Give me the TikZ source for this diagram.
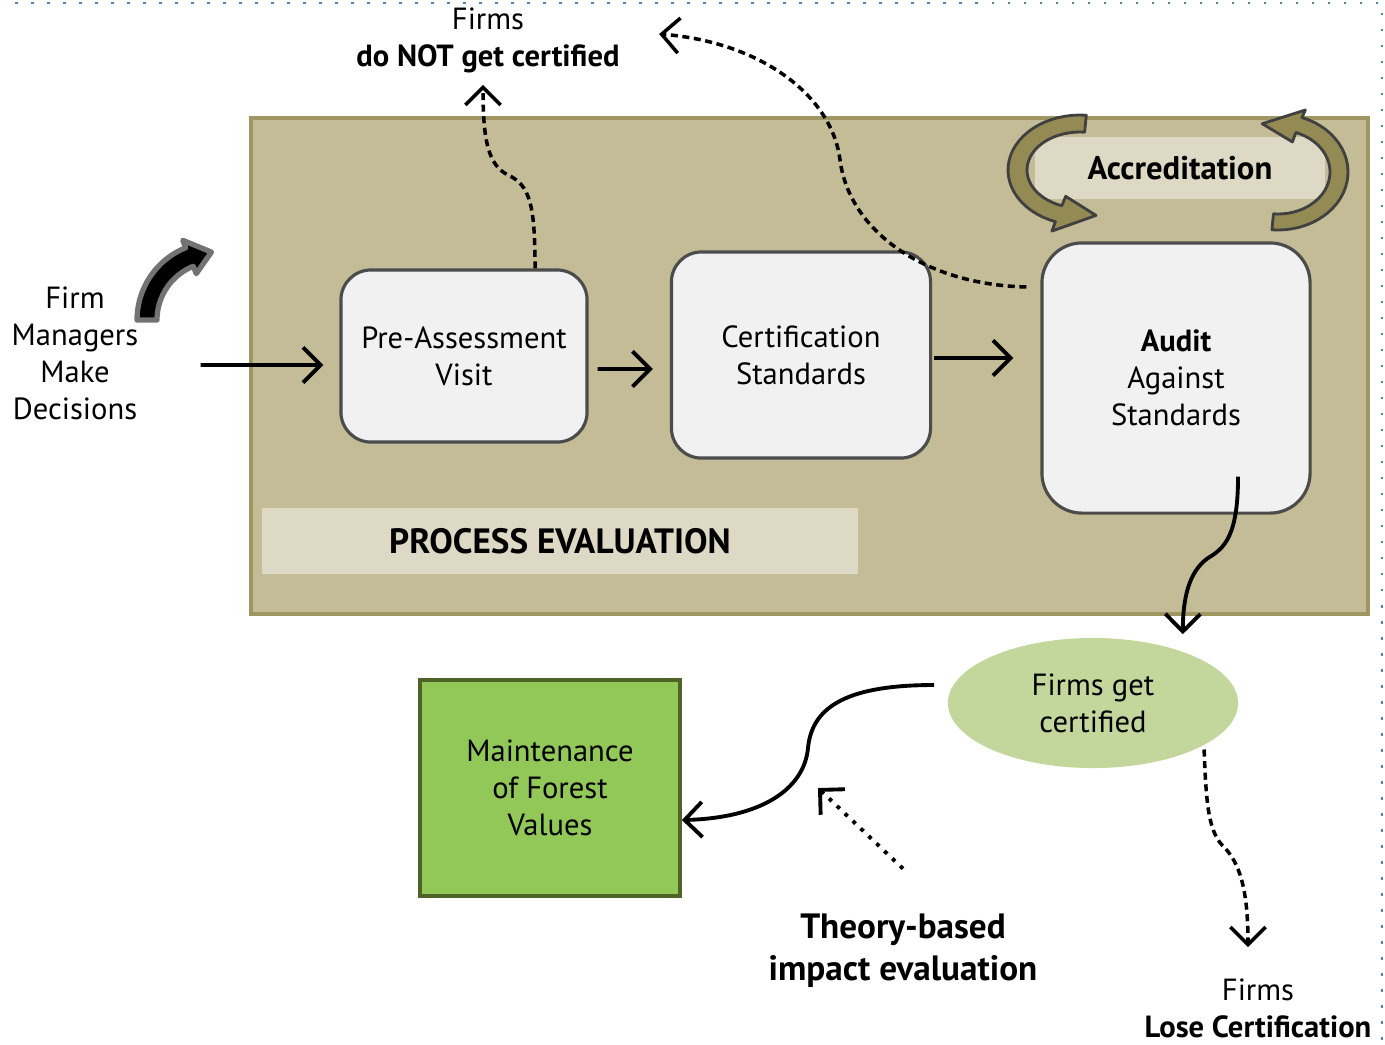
\documentclass[tikz,border=0pt]{standalone}
\usepackage{fontspec}
\setmainfont{PT Sans}
\usetikzlibrary{arrows.meta, shapes.geometric, positioning}

\definecolor{procfill}{RGB}{196,188,150}
\definecolor{procline}{RGB}{160,150,98}
\definecolor{bandfill}{RGB}{222,217,196}
\definecolor{boxfill}{RGB}{240,241,240}
\definecolor{olivearrow}{RGB}{148,138,84}
\definecolor{certgreen}{RGB}{195,214,155}
\definecolor{forestgreen}{RGB}{146,200,88}
\definecolor{forestline}{RGB}{79,98,40}
\definecolor{selblue}{RGB}{79,129,189}

\tikzset{
  txt/.style={align=center, font=\fontsize{8.7}{10.5}\selectfont},
  stepbox/.style={txt, draw=black!70, fill=boxfill, rounded corners=0.3cm, line width=0.9pt, inner sep=0pt},
  band/.style={fill=bandfill, inner sep=0pt},
  flow/.style={line width=1.1pt, -{Straight Barb[length=5pt,width=10pt]}},
  dashflow/.style={flow, line width=1pt, dash pattern=on 2pt off 1.3pt},
}

\begin{document}
\begin{tikzpicture}[x=0.01cm, y=-0.01cm]
    \useasboundingbox (0,0) rectangle (1385,1044);

    % selection frame
    \draw[selblue, line width=0.025cm, dash pattern=on 0.025cm off 0.135cm] (15,3) -- (1382,3) -- (1382,1044);

    % process evaluation area
    \draw[procline, fill=procfill, line width=1.2pt] (251,118) rectangle (1368,614);
    \node[band, minimum width=5.95cm, minimum height=0.66cm, font=\fontsize{10}{12}\selectfont\bfseries] (proceval) at (560,541) {PROCESS EVALUATION};
    \node[band, minimum width=2.9cm, minimum height=0.61cm, font=\fontsize{9.3}{11}\selectfont\bfseries] (accr) at (1180,168) {Accreditation};

    \node[stepbox, minimum width=2.46cm, minimum height=1.72cm] (pre) at (464,356) {Pre-Assessment\\Visit};
    \node[stepbox, minimum width=2.59cm, minimum height=2.06cm] (certstd) at (801,355) {Certification\\Standards};
    \node[stepbox, minimum width=2.68cm, minimum height=2.70cm, rounded corners=0.4cm] (audit) at (1176,378) {\textbf{Audit}\\Against\\Standards};

    \node[txt] (firm) at (75,353) {Firm\\Managers\\Make\\Decisions};
    \node[txt] (notcert) at (488,40) {Firms\\\textbf{do NOT get certified}};
    \node[txt, ellipse, fill=certgreen, minimum width=2.9cm, minimum height=1.3cm] (cert) at (1093,703) {Firms get\\certified};
    \node[txt, draw=forestline, fill=forestgreen, line width=1pt, minimum width=2.6cm, minimum height=2.16cm] (forest) at (550,788) {Maintenance\\of Forest\\Values};
    \node[txt, font=\fontsize{10}{12}\selectfont\bfseries] (theory) at (903,951) {Theory-based\\impact evaluation};
    \node[txt] (lose) at (1258,1008) {Firms\\\textbf{Lose Certification}};
    \coordinate (impact) at (818,788);

    % main flow
    \draw[flow, shorten <=0.5cm, shorten >=0.16cm] ([yshift=-0.12cm]firm.east) -- ([yshift=-0.09cm]pre.west);
    \draw[flow, shorten <=0.09cm, shorten >=0.17cm] ([yshift=-0.13cm]pre.east) -- ([yshift=-0.14cm]certstd.west);
    \draw[flow, shorten <=0.02cm, shorten >=0.27cm] ([yshift=-0.03cm]certstd.east) -- ([yshift=0.2cm]audit.west);

    % not certified
    \draw[dashflow] ([xshift=0.71cm]pre.north) .. controls (535,205) and (530,185) .. (508,175) .. controls (488,165) and (483,140) .. ([xshift=-0.05cm]notcert.south);
    \draw[dashflow] ([xshift=-0.14cm,yshift=0.91cm]audit.west) .. controls (930,285) and (850,235) .. (840,160) .. controls (832,95) and (760,42) .. ([xshift=0.27cm,yshift=0.06cm]notcert.east);

    % certified
    \draw[flow] ([xshift=0.62cm,yshift=0.38cm]audit.south) .. controls (1238,535) and (1225,548) .. (1208,558) .. controls (1188,572) and (1183,600) .. ([yshift=0.17cm]cert.30);
    \draw[flow] ([xshift=-0.13cm,yshift=0.18cm]cert.west) .. controls (850,685) and (812,705) .. (808,748) .. controls (804,790) and (760,818) .. ([yshift=-0.32cm]forest.east);
    \draw[line width=1.1pt, dotted, -{Straight Barb[length=5pt,width=10pt]}] ([yshift=0.33cm]theory.north) -- (impact);
    \draw[dashflow] ([xshift=0.08cm]cert.south east) .. controls (1206,800) and (1208,830) .. (1222,845) .. controls (1240,862) and (1248,890) .. ([xshift=-0.1cm,yshift=0.19cm]lose.north);

    % decision arrow
    \filldraw[fill=black, draw=black!55, line width=1.5pt, line join=round]
        plot[domain=180:112, samples=20] ({215+78*cos(\x)}, {320-78*sin(\x)})
        -- ({215+86*cos(112)}, {320-86*sin(112)})
        -- ({215+68*cos(93)}, {320-68*sin(93)})
        -- ({215+50*cos(112)}, {320-50*sin(112)})
        -- plot[domain=112:180, samples=20] ({215+58*cos(\x)}, {320-58*sin(\x)})
        -- cycle;

    % accreditation cycle
    \filldraw[fill=olivearrow, draw=black!75, line width=0.8pt, line join=round]
        plot[domain=85:250, samples=30] ({1080+72*cos(\x)}, {170-55*sin(\x)})
        -- ({1080+82*cos(250)}, {170-65*sin(250)})
        -- ({1080+62*cos(285)}, {170-47*sin(285)})
        -- ({1080+42*cos(250)}, {170-28*sin(250)})
        -- plot[domain=250:85, samples=30] ({1080+53*cos(\x)}, {170-38*sin(\x)})
        -- cycle;
    \filldraw[fill=olivearrow, draw=black!75, line width=0.8pt, line join=round]
        plot[domain=-95:70, samples=30] ({1278+70*cos(\x)}, {172-58*sin(\x)})
        -- ({1278+80*cos(70)}, {172-66*sin(70)})
        -- ({1278+61*cos(105)}, {172-50*sin(105)})
        -- ({1278+42*cos(70)}, {172-32*sin(70)})
        -- plot[domain=70:-95, samples=30] ({1278+52*cos(\x)}, {172-42*sin(\x)})
        -- cycle;
\end{tikzpicture}
\end{document}
